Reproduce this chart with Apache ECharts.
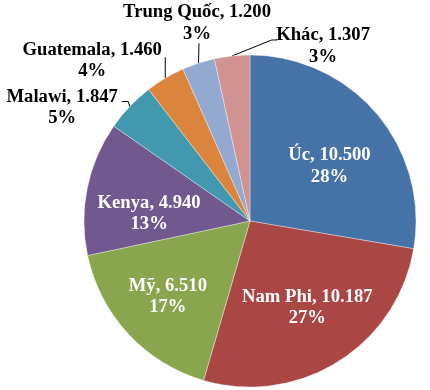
<!DOCTYPE html>
<html>
<head>
<meta charset="utf-8">
<script src="https://cdn.jsdelivr.net/npm/echarts@6/dist/echarts.min.js"></script>
<style>
html,body{margin:0;padding:0;background:#fff;}
#chart{width:430px;height:390px;}
</style>
</head>
<body>
<div id="chart"></div>
<script>
// ---- data ----
var categories = ['Úc', 'Nam Phi', 'Mỹ', 'Kenya', 'Malawi', 'Guatemala', 'Trung Quốc', 'Khác'];
var values = [10500, 10187, 6510, 4940, 1847, 1460, 1200, 1307];

// ---- styles ----
var colors = ['#4572A7', '#AA4643', '#89A54E', '#71588F', '#4198AF', '#DB843D', '#93A9CF', '#D19392'];
var insideLabel = [true, true, true, true, false, false, false, false];
// small nudges of the inside labels (pixels)
var insideNudge = { 0: [-3, 15], 1: [0, -5], 2: [-3, 2], 3: [5, 14] };
// outside label placement, relative to the slice edge point
var outsideLayout = {
  4: { dx: -67.6, dy: 1.3, line: [[0, 0], [-1.6, -5], [-8, -5]] },
  5: { dx: -73, dy: -17.4, line: [[0, 0], [0, -10], [0, -21]] },
  6: { dx: -1.4, dy: -40, line: [[0, 0], [0.3, -10], [0.5, -20]] },
  7: { dx: 91, dy: -10, line: [[0, 0], [39.7, -16], [45, -16]] }
};
var FONT = '"Times New Roman", "Liberation Serif", serif';

function fmt(v) {
  return String(v).replace(/\B(?=(\d{3})+(?!\d))/g, '.');
}
function labelText(p) {
  return p.name + ', ' + fmt(p.value) + '\n' + Math.round(p.percent) + '%';
}

var chart = echarts.init(document.getElementById('chart'), null, { renderer: 'canvas' });

var mainData = categories.map(function (c, i) {
  return {
    name: c, value: values[i],
    itemStyle: { color: colors[i] },
    label: { show: !insideLabel[i] },
    labelLine: { show: !insideLabel[i] }
  };
});
var overlayData = categories.map(function (c, i) {
  return {
    name: c, value: values[i],
    label: { show: insideLabel[i] }
  };
});

chart.setOption({
  animation: false,
  series: [
    {
      type: 'pie',
      center: [250, 221],
      radius: [0, 166],
      startAngle: 90,
      clockwise: true,
      avoidLabelOverlap: false,
      itemStyle: { borderColor: 'rgba(255,255,255,0.6)', borderWidth: 0.6 },
      label: {
        position: 'outside',
        formatter: labelText,
        color: '#000',
        fontFamily: FONT,
        fontWeight: 'bold',
        fontSize: 18.67,
        lineHeight: 21.5
      },
      labelLine: { lineStyle: { color: '#000', width: 1 } },
      labelLayout: function (p) {
        var o = outsideLayout[p.dataIndex];
        if (!o || !p.labelLinePoints) return {};
        var e = p.labelLinePoints[0];
        return {
          x: e[0] + o.dx,
          y: e[1] + o.dy,
          align: 'center',
          verticalAlign: 'middle',
          labelLinePoints: o.line.map(function (d) { return [e[0] + d[0], e[1] + d[1]]; })
        };
      },
      emphasis: { disabled: true },
      data: mainData
    },
    {
      type: 'pie',
      silent: true,
      center: [250, 221],
      radius: [44, 166],
      startAngle: 90,
      clockwise: true,
      itemStyle: { color: 'rgba(0,0,0,0)', borderWidth: 0 },
      label: {
        position: 'inside',
        formatter: labelText,
        color: '#fff',
        fontFamily: FONT,
        fontWeight: 'bold',
        fontSize: 18.67,
        lineHeight: 21.5,
        align: 'center'
      },
      labelLine: { show: false },
      labelLayout: function (p) {
        var n = insideNudge[p.dataIndex];
        if (!n) return {};
        return { dx: n[0], dy: n[1] };
      },
      emphasis: { disabled: true },
      data: overlayData
    }
  ]
});
</script>
</body>
</html>
